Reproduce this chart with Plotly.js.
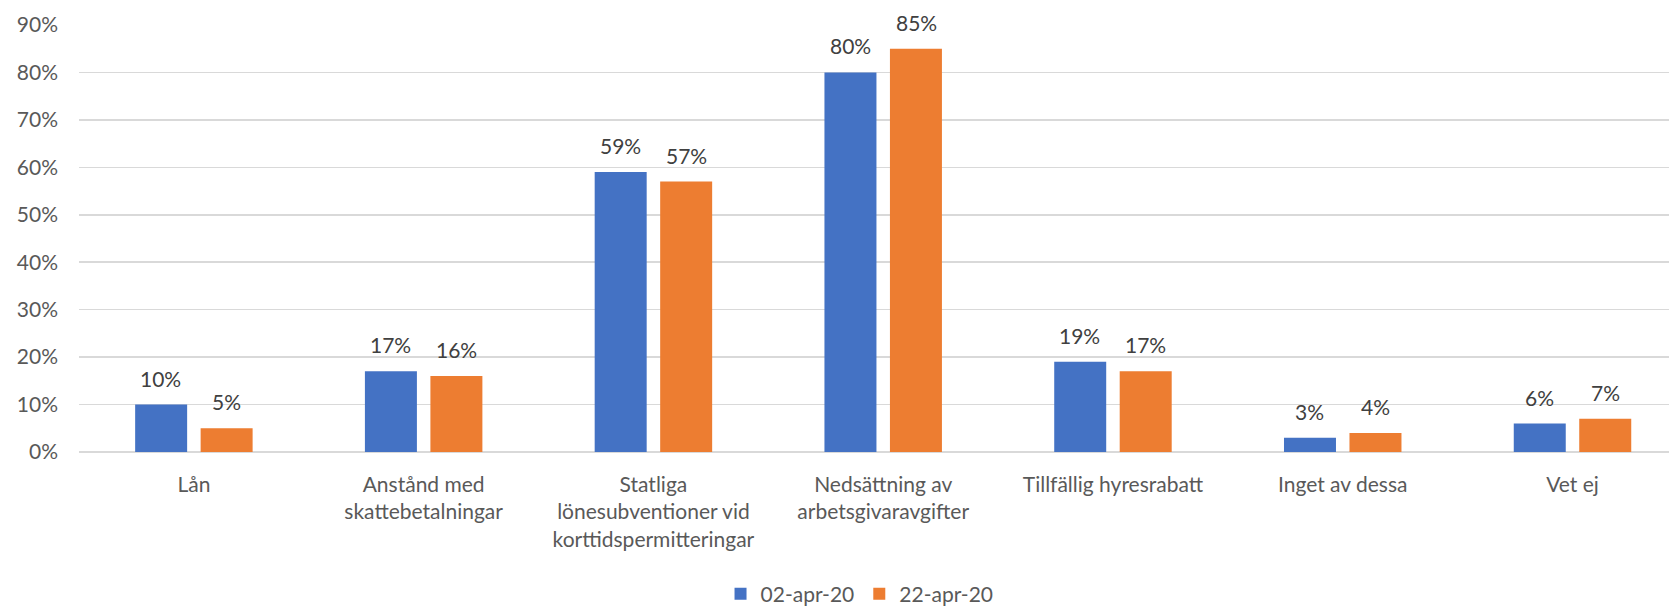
<!DOCTYPE html>
<html>
<head>
<meta charset="utf-8">
<script src="https://cdn.plot.ly/plotly-3.0.1.min.js"></script>
<style>html,body{margin:0;padding:0;background:#fff}#chart{width:1669px;height:608px}</style>
</head>
<body>
<div id="chart"></div>
<script>
const categories = [
  "Lån",
  "Anstånd med<br>skattebetalningar",
  "Statliga<br>lönesubventioner vid<br>korttidspermitteringar",
  "Nedsättning av<br>arbetsgivaravgifter",
  "Tillfällig hyresrabatt",
  "Inget av dessa",
  "Vet ej"
];
const seriesNames = ["02-apr-20", "22-apr-20"];
const series1 = [0.10, 0.17, 0.59, 0.80, 0.19, 0.03, 0.06];
const series2 = [0.05, 0.16, 0.57, 0.85, 0.17, 0.04, 0.07];
const colors = ["#4472C4", "#ED7D31"];
const yTickVals = [0, 0.1, 0.2, 0.3, 0.4, 0.5, 0.6, 0.7, 0.8, 0.9];
const yTickText = ["0%", "10%", "20%", "30%", "40%", "50%", "60%", "70%", "80%", "90%"];

const FONT = "Lato, 'Open Sans', sans-serif";
const allSeries = [series1, series2];

const traces = allSeries.map((vals, i) => ({
  type: "bar",
  name: seriesNames[i],
  x: categories,
  y: vals,
  marker: {color: colors[i]},
  hoverinfo: "none"
}));

const annotations = [];
allSeries.forEach((vals, i) => {
  vals.forEach((v, j) => {
    annotations.push({
      x: categories[j], y: v, xref: "x", yref: "y",
      text: Math.round(v * 100) + "%",
      showarrow: false,
      yanchor: "bottom",
      xshift: i === 0 ? -33 : 33,
      yshift: 12,
      font: {family: FONT, size: 21, color: "#404040"}
    });
  });
});

const layout = {
  width: 1669, height: 608,
  margin: {l: 79, r: 0, t: 25, b: 156, autoexpand: false},
  paper_bgcolor: "#fff", plot_bgcolor: "#fff",
  barmode: "group",
  bargap: 0.43,
  bargroupgap: 0.206,
  font: {family: FONT, size: 21, color: "#595959"},
  xaxis: {
    type: "category", automargin: false,
    range: [-0.5, 6.42],
    tickfont: {family: FONT, size: 21, color: "#595959"},
    showgrid: false, zeroline: false, showline: false,
    ticks: "", ticklabelstandoff: 18
  },
  yaxis: {
    range: [0, 0.9], automargin: false,
    tickvals: yTickVals, ticktext: yTickText,
    tickfont: {family: FONT, size: 21, color: "#595959"},
    showgrid: true, gridcolor: "#d9d9d9", gridwidth: 1.5,
    zeroline: true, zerolinecolor: "#d9d9d9", zerolinewidth: 1.8,
    showline: false, ticks: "", ticklabelstandoff: 20,
    fixedrange: true
  },
  legend: {
    orientation: "h",
    xref: "container", x: 0.515, xanchor: "center",
    yref: "container", y: 0.023, yanchor: "middle",
    font: {family: FONT, size: 21, color: "#595959"},
    tracegroupgap: 0
  },
  annotations: annotations,
  showlegend: true
};

Plotly.newPlot("chart", traces, layout, {displayModeBar: false, staticPlot: true});
</script>
</body>
</html>
